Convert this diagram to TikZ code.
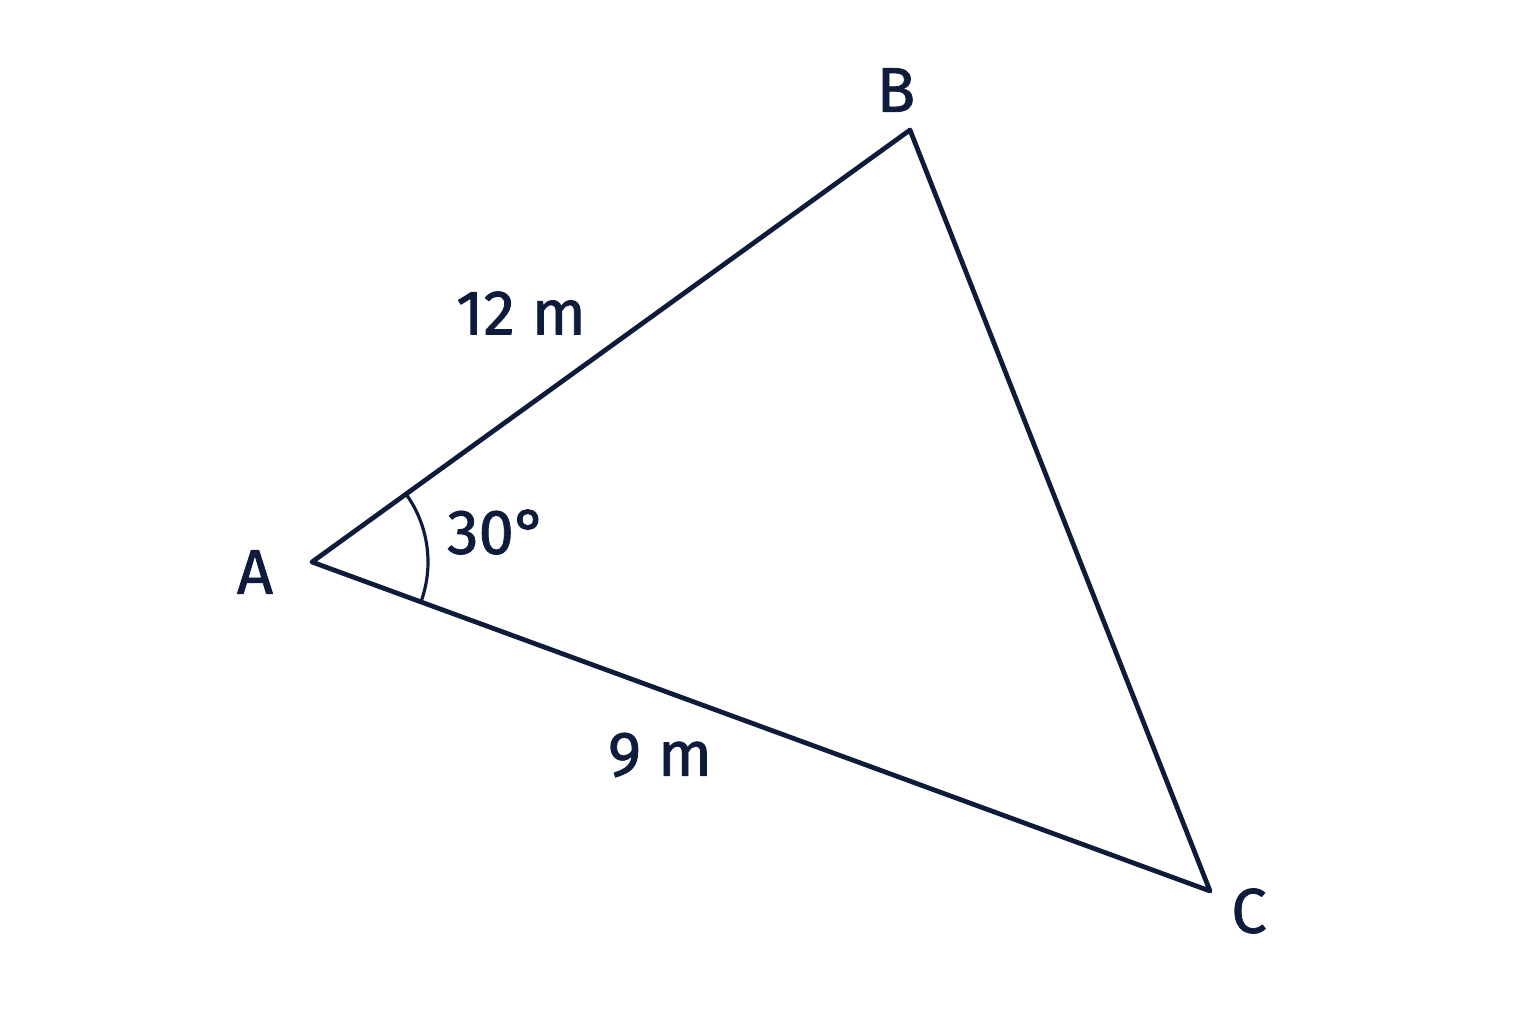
\documentclass[tikz,border=0pt]{standalone}
\usepackage{fontspec}
\setmainfont[FakeBold=1.2,BoldFont=Fira Sans]{Fira Sans}
\usepackage{tikz}
\usetikzlibrary{calc}
\definecolor{ink}{HTML}{0F1B3A}

\begin{document}
\begin{tikzpicture}[inner sep=2pt,outer sep=0pt,ink,line join=round,
	lbl/.style={text=ink,font=\fontsize{18}{20}\selectfont\bfseries}]
	\useasboundingbox (0,0) rectangle (15.36,10.24);
	\coordinate (A) at (3.12,4.62) ;
	\coordinate (B) at (9.10,8.94) ;
	\coordinate (C) at (12.10,1.33) ;
	\node[lbl] (a) at (2.55,4.52) {A} ;
	\node[lbl] (b) at (8.96,9.34) {B} ;
	\node[lbl] (c) at (12.49,1.13) {C} ;
	\node[lbl] (ab) at (5.21,7.11) {12 m} ;
	\node[lbl] (ac) at (6.60,2.69) {9 m} ;
	\node[lbl] (ang) at (4.97,4.92) {30°} ;
	\draw[line width=1.35pt] (A)--(B)--(C)--cycle ;
	\draw[line width=0.9pt] ($(A)+(35.8:1.16)$) arc[start angle=35.8,end angle=-21,radius=1.16] ;
\end{tikzpicture}
\end{document}
